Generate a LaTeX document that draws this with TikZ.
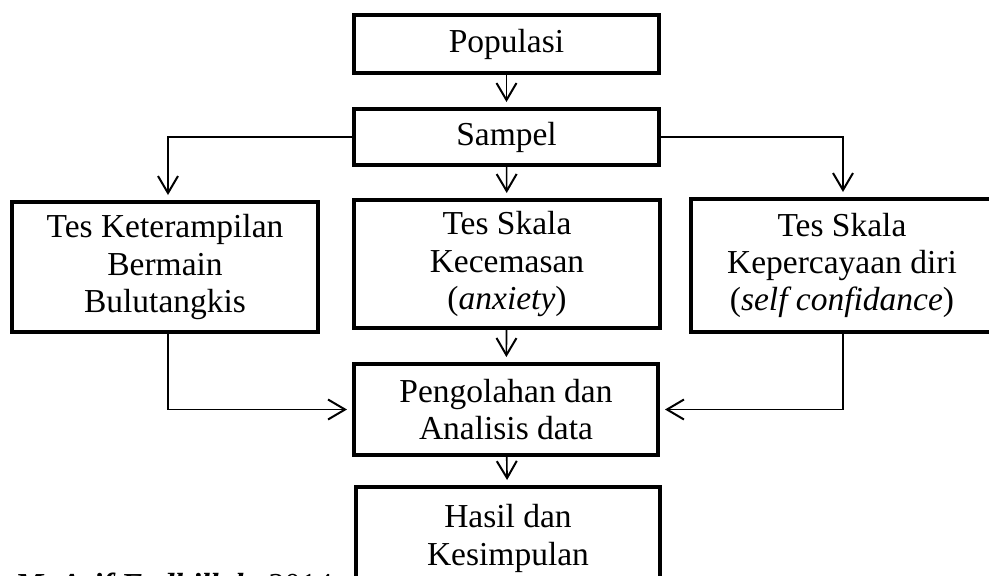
\documentclass[tikz,border=0pt]{standalone}
\usepackage{fontspec}
\setmainfont{Liberation Serif}
\usetikzlibrary{arrows.meta}

\begin{document}
\begin{tikzpicture}[x=1pt, y=-1pt,
  kotak/.style={draw, rectangle, line width=4pt, align=center, inner sep=0pt,
    font=\fontsize{33.5}{37.3}\selectfont},
  panah/.style={-{Straight Barb[length=17pt, width=20pt, line width=2pt]},
    line width=1.6pt, shorten >=5pt}]
\clip (0,0) rectangle (989,576);
\fill[white] (0,0) rectangle (989,576);
\node[kotak, minimum width=305pt, minimum height=58pt] (pop) at (506.5,44) {Populasi};
\node[kotak, minimum width=305pt, minimum height=56pt] (samp) at (506.5,137) {Sampel};
\node[kotak, minimum width=306pt, minimum height=130pt] (kiri) at (165,267) {Tes Keterampilan\\Bermain\\Bulutangkis};
\node[kotak, minimum width=306pt, minimum height=128pt] (kcm) at (507,264) {Tes Skala\\Kecemasan\\(\textit{anxiety})};
\node[kotak, minimum width=302pt, minimum height=133pt] (pd) at (842,265.5) {Tes Skala\\Kepercayaan diri\\(\textit{self confidance})};
\node[kotak, minimum width=304pt, minimum height=91pt] (anl) at (506,409.5) {Pengolahan dan\\Analisis data};
\node[kotak, minimum width=304pt, minimum height=103pt] (hsl) at (508,538.5) {Hasil dan\\Kesimpulan};
\node[anchor=base west, inner sep=0pt, font=\fontsize{32}{36}\selectfont] (sumber) at (15,595)
  {\textbf{\textit{M. Arif Fadhillah}}, 2014};

\draw[panah] (pop) -- (samp);
\draw[panah] (samp) -- (kcm);
\draw[panah] (samp.west) -| ([xshift=3pt]kiri.north);
\draw[panah] (samp.east) -| ([xshift=1pt]pd.north);
\draw[panah] (kcm) -- (anl);
\draw[panah] ([xshift=3pt]kiri.south) |- (anl.west);
\draw[panah] ([xshift=1pt]pd.south) |- (anl.east);
\draw[panah] (anl) -- (hsl);
\end{tikzpicture}
\end{document}
